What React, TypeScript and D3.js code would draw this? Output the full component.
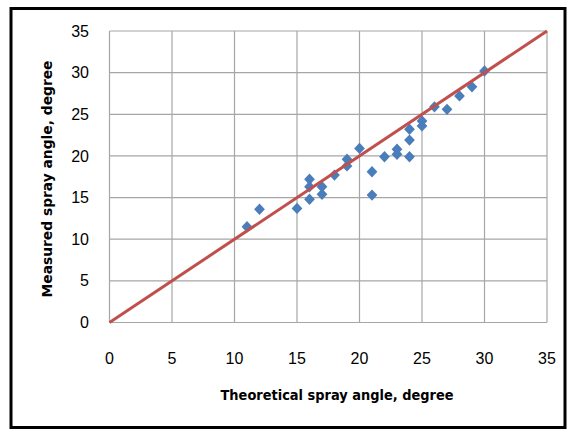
import React from "react";
import * as d3 from "d3";

const theoretical = [11, 12, 15, 16, 16, 16, 17, 17, 18, 19, 19, 20, 21, 21, 22, 23, 23, 24, 24, 24, 25, 25, 26, 27, 28, 29, 30];
const measured = [11.5, 13.6, 13.7, 14.8, 16.3, 17.2, 15.4, 16.3, 17.7, 18.8, 19.6, 20.9, 18.1, 15.3, 19.9, 20.8, 20.2, 23.2, 21.9, 19.9, 24.2, 23.6, 25.9, 25.6, 27.2, 28.3, 30.2];
const ticks = [0, 5, 10, 15, 20, 25, 30, 35];
const fitLine = [[0, 0], [35, 35]];
const xTitle = "Theoretical spray angle, degree";
const yTitle = "Measured spray angle, degree";

const W = 569, H = 430;
const L = 109.5, R = 547, T = 31, B = 322.5;

export default function App() {
  const x = d3.scaleLinear().domain([0, 35]).range([L, R]);
  const y = d3.scaleLinear().domain([0, 35]).range([B, T]);
  const line = d3.line<number[]>().x(d => x(d[0])).y(d => y(d[1]));
  const sym = d3.symbol().type(d3.symbolDiamond2).size(74)();
  const font = "'Liberation Sans', Arial, sans-serif";
  const bold = "'DejaVu Sans Condensed', 'Open Sans', sans-serif";
  return (
    <svg width={W} height={H} style={{ position: "absolute", left: 0, top: 0, background: "#fff" }}>
      <rect x={0} y={0} width={W} height={H} fill="#fff" />
      <rect x={11} y={8.5} width={554} height={419} fill="none" stroke="#000" strokeWidth={3} />
      {ticks.map(t => (
        <line key={"v" + t} x1={x(t)} x2={x(t)} y1={T} y2={B} stroke="#a6a6a6" strokeWidth={1.2} />
      ))}
      {ticks.map(t => (
        <line key={"h" + t} x1={L} x2={R} y1={y(t)} y2={y(t)} stroke="#a6a6a6" strokeWidth={1.2} />
      ))}
      {ticks.map(t => (
        <text key={"yl" + t} x={89} y={y(t)} dy="0.35em" textAnchor="end" fontFamily={font} fontSize={16} fill="#000">{t}</text>
      ))}
      {ticks.map(t => (
        <text key={"xl" + t} x={x(t)} y={358} dy="0.35em" textAnchor="middle" fontFamily={font} fontSize={16} fill="#000">{t}</text>
      ))}
      {theoretical.map((tv, i) => (
        <path key={"p" + i} d={sym as string} transform={`translate(${x(tv)},${y(measured[i])}) scale(1,1.05)`} fill="#4a7ebb" />
      ))}
      <path d={line(fitLine as any) as string} stroke="#c0504d" strokeWidth={3} fill="none" />
      <text x={337} y={395} dy="0.35em" textAnchor="middle" fontFamily={bold} fontWeight="bold" fontSize={13.5} textLength={233} lengthAdjust="spacingAndGlyphs" fill="#000">{xTitle}</text>
      <text transform={`translate(47,179) rotate(-90)`} dy="0.35em" textAnchor="middle" fontFamily={bold} fontWeight="bold" fontSize={13.5} textLength={237} lengthAdjust="spacingAndGlyphs" fill="#000">{yTitle}</text>
    </svg>
  );
}
